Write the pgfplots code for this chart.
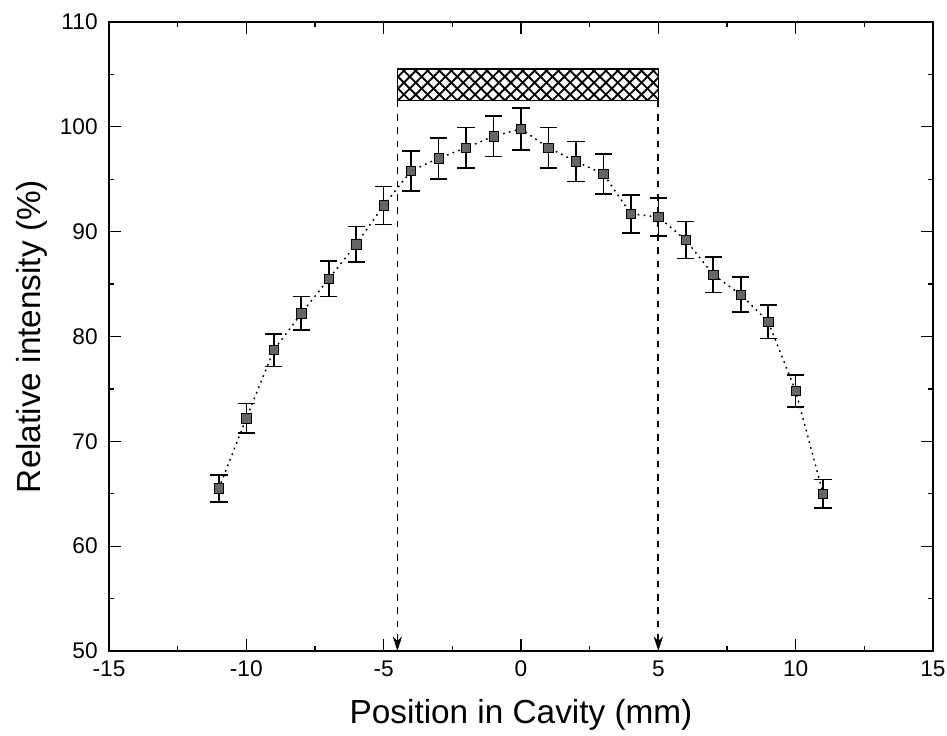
\documentclass[border=0pt]{standalone}
\usepackage{fontspec}
\setmainfont{Liberation Sans}
\usepackage{pgfplots}
\pgfplotsset{compat=1.18}
\usetikzlibrary{patterns.meta,arrows.meta}
\pgfplotstableread{
x y e
-11 65.5 1.3
-10 72.2 1.4
-9 78.7 1.55
-8 82.2 1.6
-7 85.5 1.7
-6 88.8 1.7
-5 92.5 1.8
-4 95.8 1.9
-3 97.0 1.95
-2 98.0 1.95
-1 99.1 1.95
0 99.8 2.0
1 98.0 1.95
2 96.7 1.9
3 95.5 1.9
4 91.7 1.8
5 91.4 1.8
6 89.2 1.75
7 85.9 1.7
8 84.0 1.65
9 81.4 1.6
10 74.8 1.5
11 65.0 1.35
}\datatable
\begin{document}
\begin{tikzpicture}
\begin{axis}[
 scale only axis, width=618pt, height=471.75pt,
 xmin=-15, xmax=15, ymin=50, ymax=110,
 xtick={-15,-10,...,15}, ytick={50,60,...,110},
 minor x tick num=1, minor y tick num=1,
 major tick length=9pt, minor tick length=4pt,
 axis line style={line width=1.2pt},
 every tick/.style={black, line width=0.9pt},
 ticklabel style={font=\fontsize{17}{19}\selectfont},
 /pgf/number format/assume math mode=true,
 xticklabel style={yshift=-4pt},
 yticklabel style={xshift=-5pt},
 label style={font=\fontsize{25}{28}\selectfont},
 xlabel={Position in Cavity (mm)},
 ylabel={Relative intensity (\%)},
 xlabel style={at={(axis description cs:0.5,0)}, anchor=center, yshift=-48pt},
 ylabel style={at={(axis description cs:0,0.5)}, anchor=center, yshift=58pt},
 clip=false,
]
\coordinate (sw) at (rel axis cs:0,0);
\coordinate (ne) at (rel axis cs:1,1);
\addplot[draw=none, pattern={Lines[angle=45,distance=6.3pt,line width=1.4pt]}] coordinates {(-4.5,102.5) (5,102.5) (5,105.5) (-4.5,105.5)} -- cycle;
\addplot[draw=none, pattern={Lines[angle=-45,distance=6.3pt,line width=1.4pt]}] coordinates {(-4.5,102.5) (5,102.5) (5,105.5) (-4.5,105.5)} -- cycle;
\addplot[black, line width=1.2pt] coordinates {(-4.5,102.5) (5,102.5) (5,105.5) (-4.5,105.5)} -- cycle;
\addplot[black, dash pattern=on 5pt off 5pt, line width=1.3pt, -{Stealth[length=11pt,width=7pt]}] coordinates {(-4.5,102.5) (-4.5,50)};
\addplot[black, dash pattern=on 5pt off 5pt, line width=1.3pt, -{Stealth[length=11pt,width=7pt]}] coordinates {(5,102.5) (5,50)};
\addplot[black, dash pattern=on 1.3pt off 3.2pt, line width=1.1pt, mark=square*, mark size=3.5pt,
  mark options={solid, fill=black!60, draw=black, line width=0.5pt},
  error bars/.cd, y dir=both, y explicit,
  error bar style={solid, line width=1.2pt},
  error mark=-,
  error mark options={rotate=90, solid, black, mark size=6.5pt, line width=1.2pt}]
  table[x=x, y=y, y error=e] {\datatable};
\end{axis}
\pgfresetboundingbox
\path ([shift={(-81.75pt,-63.75pt)}]sw) rectangle ([shift={(10.5pt,16.5pt)}]ne);
\end{tikzpicture}
\end{document}
